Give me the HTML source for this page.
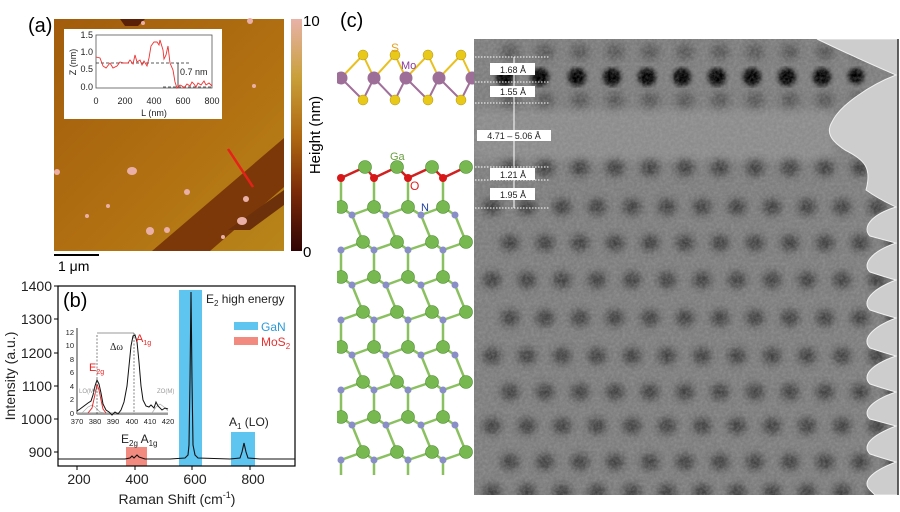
<!DOCTYPE html>
<html><head><meta charset="utf-8"><style>
html,body{margin:0;padding:0;background:#fff;}
svg{display:block;font-family:"Liberation Sans",sans-serif;}
</style></head><body>
<svg width="900" height="512" viewBox="0 0 900 512" xmlns="http://www.w3.org/2000/svg">
<defs>
<linearGradient id="cb" x1="0" y1="0" x2="0" y2="1">
<stop offset="0" stop-color="#e8b2a8"/><stop offset="0.25" stop-color="#c9a03a"/>
<stop offset="0.5" stop-color="#b06a12"/><stop offset="0.75" stop-color="#7a2a08"/>
<stop offset="1" stop-color="#300404"/></linearGradient>
<linearGradient id="afm" x1="0" y1="0" x2="1" y2="1">
<stop offset="0" stop-color="#a25c0c"/><stop offset="0.6" stop-color="#b27212"/><stop offset="1" stop-color="#b8861a"/></linearGradient>
<filter id="bl" x="-10%" y="-10%" width="120%" height="120%"><feGaussianBlur stdDeviation="4"/></filter>
<filter id="bl2" x="-10%" y="-10%" width="120%" height="120%"><feGaussianBlur stdDeviation="2.5"/></filter>
<filter id="nz"><feTurbulence type="fractalNoise" baseFrequency="0.35" numOctaves="2"/><feColorMatrix type="matrix" values="0 0 0 0 0.5  0 0 0 0 0.5  0 0 0 0 0.5  1 0 0 0 -0.3"/></filter>
<clipPath id="tc"><rect x="474" y="39" width="425" height="456"/></clipPath>
<clipPath id="mc"><rect x="337" y="35" width="137" height="470"/></clipPath>
</defs>

<!-- (a) -->
<text x="28" y="32" font-size="20">(a)</text>
<rect x="54" y="19" width="230" height="232" fill="url(#afm)"/>
<polygon points="152,251 284,138 284,187 210,251" fill="#7c3808"/>
<polygon points="120,19 145,19 138,26 125,26" fill="#5a2006"/>
<polygon points="228,230 284,190 284,205 250,230" fill="#6c300a"/>
<g fill="#eab0a8">
<ellipse cx="132" cy="171" rx="5" ry="4"/><ellipse cx="242" cy="221" rx="5" ry="4"/><circle cx="150" cy="231" r="4"/><circle cx="167" cy="230" r="3"/><circle cx="57" cy="172" r="3"/><circle cx="187" cy="192" r="3"/><circle cx="250" cy="21" r="3"/><circle cx="143" cy="23" r="2"/><circle cx="254" cy="86" r="2"/><circle cx="246" cy="199" r="3"/><circle cx="108" cy="206" r="2"/><circle cx="87" cy="216" r="2"/><circle cx="223" cy="237" r="2"/></g>
<line x1="228" y1="149" x2="253" y2="187" stroke="#e8201a" stroke-width="2.5"/>
<rect x="64" y="29" width="158" height="90" fill="#fff"/>
<rect x="96" y="35" width="116" height="53" fill="none" stroke="#555" stroke-width="0.8"/>
<g font-size="9" fill="#222">
<text x="93" y="38" text-anchor="end">1.5</text><text x="93" y="55" text-anchor="end">1.0</text><text x="93" y="72" text-anchor="end">0.5</text><text x="93" y="90" text-anchor="end">0.0</text>
<text x="96" y="104" text-anchor="middle">0</text><text x="125" y="104" text-anchor="middle">200</text><text x="154" y="104" text-anchor="middle">400</text><text x="183" y="104" text-anchor="middle">600</text><text x="212" y="104" text-anchor="middle">800</text>
<text x="154" y="116" text-anchor="middle">L (nm)</text>
<text transform="translate(76,62) rotate(-90)" text-anchor="middle">Z (nm)</text>
<text x="180" y="75">0.7 nm</text></g>
<line x1="96" y1="63" x2="190" y2="63" stroke="#222" stroke-dasharray="3,2" stroke-width="0.8"/>
<line x1="163" y1="87" x2="211" y2="87" stroke="#222" stroke-dasharray="3,2" stroke-width="0.8"/>
<line x1="178" y1="63" x2="178" y2="87" stroke="#222" stroke-width="0.8"/>
<polyline fill="none" stroke="#f03030" stroke-width="0.9" points="96,57 100,58 103,66 106,68 110,63 113,68 117,66 120,62 124,63 128,63 130,60 133,64 135,55 137,62 140,60 142,65 144,61 147,66 149,58 151,46 154,42 157,42 159,45 160,40 163,50 164,59 166,55 168,46 170,63 173,70 175,82 177,88 180,85 182,86 184,88 187,84 190,86 192,82 194,84 196,87 198,83 201,85 204,81 206,85 209,83 212,86"/>
<rect x="291" y="19" width="11" height="232" fill="url(#cb)"/>
<text x="303" y="26" font-size="15">10</text>
<text x="303" y="257" font-size="15">0</text>
<text transform="translate(320,135) rotate(-90)" text-anchor="middle" font-size="15">Height (nm)</text>
<line x1="54" y1="255" x2="99" y2="255" stroke="#000" stroke-width="2"/>
<text x="58" y="271" font-size="14">1 μm</text>

<!-- (b) -->
<rect x="179" y="290" width="23" height="176" fill="#5ec4f0"/>
<rect x="231" y="432" width="24" height="34" fill="#5ec4f0"/>
<rect x="126" y="447" width="21" height="19" fill="#f28a80"/>
<rect x="58" y="286" width="237" height="180" fill="none" stroke="#000" stroke-width="1.2"/>
<g stroke="#000" stroke-width="1"><line x1="58" y1="286" x2="54" y2="286"/><line x1="58" y1="319" x2="54" y2="319"/><line x1="58" y1="353" x2="54" y2="353"/><line x1="58" y1="386" x2="54" y2="386"/><line x1="58" y1="419" x2="54" y2="419"/><line x1="58" y1="452" x2="54" y2="452"/>
<line x1="77" y1="466" x2="77" y2="470"/><line x1="135" y1="466" x2="135" y2="470"/><line x1="192" y1="466" x2="192" y2="470"/><line x1="250" y1="466" x2="250" y2="470"/></g>
<g font-size="14" fill="#222" text-anchor="end"><text x="52" y="291">1400</text><text x="52" y="324">1300</text><text x="52" y="358">1200</text><text x="52" y="391">1100</text><text x="52" y="424">1000</text><text x="52" y="457">900</text></g>
<g font-size="14" fill="#222" text-anchor="middle"><text x="79" y="484">200</text><text x="137" y="484">400</text><text x="195" y="484">600</text><text x="253" y="484">800</text>
<text x="177" y="504">Raman Shift (cm<tspan font-size="9" dy="-6">-1</tspan><tspan dy="6">)</tspan></text></g>
<text transform="translate(15,376) rotate(-90)" text-anchor="middle" font-size="14" fill="#222">Intensity (a.u.)</text>
<polyline fill="none" stroke="#111" stroke-width="1.1" points="58,459 100,459 125,459 130,458 132,456 134,458 137,455 139,457 145,459 170,459 185,458 188,455 189,445 190,380 191,292 192,380 193,445 195,455 198,458 230,459 240,458 242,452 244,443 246,452 248,458 260,459 295,459"/>
<text x="63" y="307" font-size="20">(b)</text>
<text x="206" y="303" font-size="12" fill="#222">E<tspan font-size="8" dy="3">2</tspan><tspan dy="-3"> high energy</tspan></text>
<text x="229" y="426" font-size="12" fill="#222">A<tspan font-size="8" dy="3">1</tspan><tspan dy="-3"> (LO)</tspan></text>
<text x="121" y="443" font-size="12" fill="#222">E<tspan font-size="8" dy="3">2g</tspan><tspan dy="-3"> A</tspan><tspan font-size="8" dy="3">1g</tspan></text>
<rect x="234" y="322" width="24" height="8" fill="#5ec4f0"/><text x="261" y="331" font-size="12" fill="#2a9ad8">GaN</text>
<rect x="234" y="337" width="24" height="8" fill="#f28a80"/><text x="261" y="346" font-size="12" fill="#e83030">MoS<tspan font-size="8" dy="3">2</tspan></text>
<!-- inset b -->
<line x1="77" y1="328" x2="77" y2="414" stroke="#000" stroke-width="0.8"/>
<line x1="77" y1="414" x2="168" y2="414" stroke="#000" stroke-width="0.8"/>
<g font-size="7.5" fill="#222" text-anchor="end"><text x="74" y="335">12</text><text x="74" y="348">10</text><text x="74" y="362">8</text><text x="74" y="375">6</text><text x="74" y="389">4</text><text x="74" y="402">2</text><text x="74" y="416">0</text></g>
<g font-size="7.5" fill="#222" text-anchor="middle"><text x="77" y="424">370</text><text x="95" y="424">380</text><text x="113" y="424">390</text><text x="132" y="424">400</text><text x="150" y="424">410</text><text x="168" y="424">420</text></g>
<line x1="77" y1="413" x2="168" y2="413" stroke="#bbb" stroke-width="1.5"/>
<polyline fill="none" stroke="#aaa" stroke-width="0.7" points="82,413 88,407 92,405 95,407 100,412 104,413"/>
<polyline fill="none" stroke="#aaa" stroke-width="0.7" points="152,413 156,407 160,404 164,407 168,411"/>
<polyline fill="none" stroke="#e82020" stroke-width="0.9" points="88,413 92,408 94,399 96,390 97,384 99,390 101,400 103,409 106,413 M120,413 126,408 129,390 131,360 133,339 134,336 136,340 138,365 140,392 143,410 147,413 168,413"/>
<polyline fill="none" stroke="#111" stroke-width="1" points="77,411 80,409 84,406 88,403 91,401 93,395 95,386 97,380 99,384 101,393 103,404 106,410 109,412 112,415 115,412 118,414 121,410 124,402 127,386 129,366 131,346 133,336 135,335 137,342 139,362 141,386 143,400 146,406 149,407 151,405 154,408 156,402 158,406 162,410 165,408 168,409"/>
<line x1="97" y1="335" x2="97" y2="414" stroke="#333" stroke-width="0.6" stroke-dasharray="2,1.5"/>
<line x1="134" y1="333" x2="134" y2="414" stroke="#333" stroke-width="0.6" stroke-dasharray="2,1.5"/>
<line x1="97" y1="333" x2="134" y2="333" stroke="#333" stroke-width="0.6"/>
<text x="110" y="350" font-size="10" font-family="Liberation Serif,serif" fill="#222">Δω</text>
<text x="136" y="342" font-size="11" fill="#e82020">A<tspan font-size="7" dy="3">1g</tspan></text>
<text x="89" y="371" font-size="11" fill="#e82020">E<tspan font-size="7" dy="3">2g</tspan></text>
<text x="79" y="393" font-size="6" fill="#999">LO(M)</text>
<text x="157" y="393" font-size="6" fill="#999">ZO(M)</text>

<!-- (c) -->
<text x="340" y="27" font-size="20">(c)</text>
<g clip-path="url(#mc)">
<g stroke-width="2">
<polyline fill="none" stroke="#e8c020" points="341,78 363,55 374,78 395,55 406,78 428,55 439,78 461,55 472,78"/>
<polyline fill="none" stroke="#a0709a" points="341,78 363,100 374,78 395,100 406,78 428,100 439,78 461,100 472,78"/>
</g>
<g fill="#e8c818" stroke="#b09010" stroke-width="0.5"><circle cx="363" cy="55" r="5"/><circle cx="395" cy="55" r="5"/><circle cx="428" cy="55" r="5"/><circle cx="461" cy="55" r="5"/><circle cx="363" cy="100" r="5"/><circle cx="395" cy="100" r="5"/><circle cx="428" cy="100" r="5"/><circle cx="461" cy="100" r="5"/></g>
<g fill="#9c6e98"><circle cx="341" cy="78" r="6.5"/><circle cx="374" cy="78" r="6.5"/><circle cx="406" cy="78" r="6.5"/><circle cx="439" cy="78" r="6.5"/><circle cx="472" cy="78" r="6.5"/></g>
<g stroke-width="2.5" fill="none">
<polyline stroke="#d02020" points="341,178 365,167 374,178 397,167 408,178 432,167 443,178 466,167"/>
<g stroke="#8ac060"><line x1="341" y1="178" x2="341" y2="207"/><line x1="374" y1="178" x2="374" y2="207"/><line x1="408" y1="178" x2="408" y2="207"/><line x1="443" y1="178" x2="443" y2="207"/></g>
</g>
<g stroke-width="2.5" fill="none" stroke="#8ac060">
<path d="M341,207 L352,215 L363,242 M374,207 L352,215 M374,207 L386,215 L397,242 M408,207 L386,215 M408,207 L421,215 L432,242 M443,207 L421,215 M443,207 L455,215 L466,242
M363,242 L341,250 L341,277 M363,242 L374,250 L374,277 M397,242 L374,250 M397,242 L408,250 L408,277 M432,242 L408,250 M432,242 L443,250 L443,277 M466,242 L443,250
M341,277 L352,285 L363,312 M374,277 L352,285 M374,277 L386,285 L397,312 M408,277 L386,285 M408,277 L421,285 L432,312 M443,277 L421,285 M443,277 L455,285 L466,312
M363,312 L341,320 L341,347 M363,312 L374,320 L374,347 M397,312 L374,320 M397,312 L408,320 L408,347 M432,312 L408,320 M432,312 L443,320 L443,347 M466,312 L443,320
M341,347 L352,355 L363,382 M374,347 L352,355 M374,347 L386,355 L397,382 M408,347 L386,355 M408,347 L421,355 L432,382 M443,347 L421,355 M443,347 L455,355 L466,382
M363,382 L341,390 L341,417 M363,382 L374,390 L374,417 M397,382 L374,390 M397,382 L408,390 L408,417 M432,382 L408,390 M432,382 L443,390 L443,417 M466,382 L443,390
M341,417 L352,425 L363,452 M374,417 L352,425 M374,417 L386,425 L397,452 M408,417 L386,425 M408,417 L421,425 L432,452 M443,417 L421,425 M443,417 L455,425 L466,452
M363,452 L341,460 L341,475 M363,452 L374,460 L374,475 M397,452 L374,460 M397,452 L408,460 L408,475 M432,452 L408,460 M432,452 L443,460 L443,475 M466,452 L443,460"/>
</g>
<g fill="#8a8ec8">
<circle cx="352" cy="215" r="3.5"/><circle cx="386" cy="215" r="3.5"/><circle cx="421" cy="215" r="3.5"/><circle cx="455" cy="215" r="3.5"/>
<circle cx="341" cy="250" r="3.5"/><circle cx="374" cy="250" r="3.5"/><circle cx="408" cy="250" r="3.5"/><circle cx="443" cy="250" r="3.5"/>
<circle cx="352" cy="285" r="3.5"/><circle cx="386" cy="285" r="3.5"/><circle cx="421" cy="285" r="3.5"/><circle cx="455" cy="285" r="3.5"/>
<circle cx="341" cy="320" r="3.5"/><circle cx="374" cy="320" r="3.5"/><circle cx="408" cy="320" r="3.5"/><circle cx="443" cy="320" r="3.5"/>
<circle cx="352" cy="355" r="3.5"/><circle cx="386" cy="355" r="3.5"/><circle cx="421" cy="355" r="3.5"/><circle cx="455" cy="355" r="3.5"/>
<circle cx="341" cy="390" r="3.5"/><circle cx="374" cy="390" r="3.5"/><circle cx="408" cy="390" r="3.5"/><circle cx="443" cy="390" r="3.5"/>
<circle cx="352" cy="425" r="3.5"/><circle cx="386" cy="425" r="3.5"/><circle cx="421" cy="425" r="3.5"/><circle cx="455" cy="425" r="3.5"/>
<circle cx="341" cy="460" r="3.5"/><circle cx="374" cy="460" r="3.5"/><circle cx="408" cy="460" r="3.5"/><circle cx="443" cy="460" r="3.5"/></g>
<g fill="#78b850" stroke="#4a8a30" stroke-width="0.6">
<circle cx="365" cy="167" r="6.5"/><circle cx="397" cy="167" r="6.5"/><circle cx="432" cy="167" r="6.5"/><circle cx="466" cy="167" r="6.5"/>
<circle cx="341" cy="207" r="6.5"/><circle cx="374" cy="207" r="6.5"/><circle cx="408" cy="207" r="6.5"/><circle cx="443" cy="207" r="6.5"/>
<circle cx="363" cy="242" r="6.5"/><circle cx="397" cy="242" r="6.5"/><circle cx="432" cy="242" r="6.5"/><circle cx="466" cy="242" r="6.5"/>
<circle cx="341" cy="277" r="6.5"/><circle cx="374" cy="277" r="6.5"/><circle cx="408" cy="277" r="6.5"/><circle cx="443" cy="277" r="6.5"/>
<circle cx="363" cy="312" r="6.5"/><circle cx="397" cy="312" r="6.5"/><circle cx="432" cy="312" r="6.5"/><circle cx="466" cy="312" r="6.5"/>
<circle cx="341" cy="347" r="6.5"/><circle cx="374" cy="347" r="6.5"/><circle cx="408" cy="347" r="6.5"/><circle cx="443" cy="347" r="6.5"/>
<circle cx="363" cy="382" r="6.5"/><circle cx="397" cy="382" r="6.5"/><circle cx="432" cy="382" r="6.5"/><circle cx="466" cy="382" r="6.5"/>
<circle cx="341" cy="417" r="6.5"/><circle cx="374" cy="417" r="6.5"/><circle cx="408" cy="417" r="6.5"/><circle cx="443" cy="417" r="6.5"/>
<circle cx="363" cy="452" r="6.5"/><circle cx="397" cy="452" r="6.5"/><circle cx="432" cy="452" r="6.5"/><circle cx="466" cy="452" r="6.5"/></g>
<g fill="#d81818"><circle cx="341" cy="178" r="4"/><circle cx="374" cy="178" r="4"/><circle cx="408" cy="178" r="4"/><circle cx="443" cy="178" r="4"/></g>
</g>
<rect x="337" y="475" width="137" height="37" fill="#fff"/>
<text x="391" y="52" font-size="12" fill="#e8a020">S</text>
<text x="401" y="69" font-size="11" fill="#8a3a9a">Mo</text>
<text x="390" y="160" font-size="11" fill="#6aa040">Ga</text>
<text x="410" y="190" font-size="12" fill="#e02020">O</text>
<text x="421" y="211" font-size="11" fill="#2040a0">N</text>

<!-- TEM -->
<g clip-path="url(#tc)">
<rect x="474" y="39" width="425" height="456" fill="#7e7e7e"/>
<rect x="474" y="110" width="360" height="50" fill="#8c8c8c" filter="url(#bl)"/>
<g fill="#3e3e3e" filter="url(#bl)">
<g id="rA"><ellipse cx="492" cy="0" rx="9" ry="8"/><ellipse cx="527" cy="0" rx="9" ry="8"/><ellipse cx="562" cy="0" rx="9" ry="8"/><ellipse cx="597" cy="0" rx="9" ry="8"/><ellipse cx="632" cy="0" rx="9" ry="8"/><ellipse cx="667" cy="0" rx="9" ry="8"/><ellipse cx="702" cy="0" rx="9" ry="8"/><ellipse cx="737" cy="0" rx="9" ry="8"/><ellipse cx="772" cy="0" rx="9" ry="8"/><ellipse cx="807" cy="0" rx="9" ry="8"/><ellipse cx="842" cy="0" rx="9" ry="8"/><ellipse cx="877" cy="0" rx="9" ry="8"/></g>
<use href="#rA" transform="translate(18,168)"/><use href="#rA" transform="translate(0,207)"/><use href="#rA" transform="translate(18,243)"/><use href="#rA" transform="translate(0,280)"/><use href="#rA" transform="translate(18,318)"/><use href="#rA" transform="translate(0,356)"/><use href="#rA" transform="translate(18,392)"/><use href="#rA" transform="translate(0,426)"/><use href="#rA" transform="translate(18,462)"/><use href="#rA" transform="translate(0,492)"/>
<use href="#rA" transform="translate(18,52)" opacity="0.6"/><use href="#rA" transform="translate(18,100)" opacity="0.6"/>
</g>
<g fill="#050505" filter="url(#bl2)"><circle cx="505" cy="77" r="9"/><circle cx="540" cy="77" r="9"/><circle cx="577" cy="77" r="9"/><circle cx="612" cy="77" r="9"/><circle cx="647" cy="77" r="9"/><circle cx="682" cy="77" r="9"/><circle cx="717" cy="77" r="9"/><circle cx="752" cy="77" r="9"/><circle cx="787" cy="77" r="9"/><circle cx="822" cy="77" r="9"/><circle cx="856" cy="76" r="8"/></g>
<rect x="474" y="39" width="425" height="456" filter="url(#nz)" opacity="0.5"/>
<path d="M817,39 C850,55 880,68 896,75 C870,85 840,105 832,122 C826,132 830,140 845,150 C865,160 872,168 866,190 C880,200 892,205 896,207 C870,215 862,228 870,236 C885,240 896,243 896,243 C870,252 862,265 870,272 C885,277 896,280 896,280 C870,290 862,302 870,310 C885,315 896,318 896,318 C870,328 862,340 870,348 C885,353 896,356 896,356 C870,365 862,376 870,384 C885,389 896,392 896,392 C870,401 862,412 870,419 C885,423 896,426 896,426 C870,436 862,446 870,454 C885,459 896,462 896,462 C870,472 862,482 870,490 L875,495 L899,495 L899,39 Z" fill="#cdcdcd" stroke="#f0f0f0" stroke-width="1"/>
<line x1="898" y1="39" x2="898" y2="495" stroke="#333" stroke-width="1.5"/>
</g>
<g stroke="#fff" stroke-width="1" stroke-dasharray="1.5,1.5"><line x1="475" y1="57" x2="550" y2="57"/><line x1="475" y1="82" x2="550" y2="82"/><line x1="475" y1="103" x2="550" y2="103"/><line x1="475" y1="167" x2="550" y2="167"/><line x1="475" y1="180" x2="550" y2="180"/><line x1="475" y1="208" x2="550" y2="208"/></g>
<line x1="514" y1="57" x2="514" y2="208" stroke="#fff" stroke-width="1"/>
<g fill="#fff"><rect x="490" y="63" width="45" height="12"/><rect x="490" y="86" width="45" height="11"/><rect x="477" y="130" width="74" height="11"/><rect x="490" y="168" width="45" height="12"/><rect x="490" y="188" width="45" height="12"/></g>
<g font-size="9" fill="#222" text-anchor="middle"><text x="513" y="73">1.68 Å</text><text x="513" y="95">1.55 Å</text><text x="514" y="139">4.71 – 5.06 Å</text><text x="513" y="178">1.21 Å</text><text x="513" y="198">1.95 Å</text></g>
</svg>
</body></html>
